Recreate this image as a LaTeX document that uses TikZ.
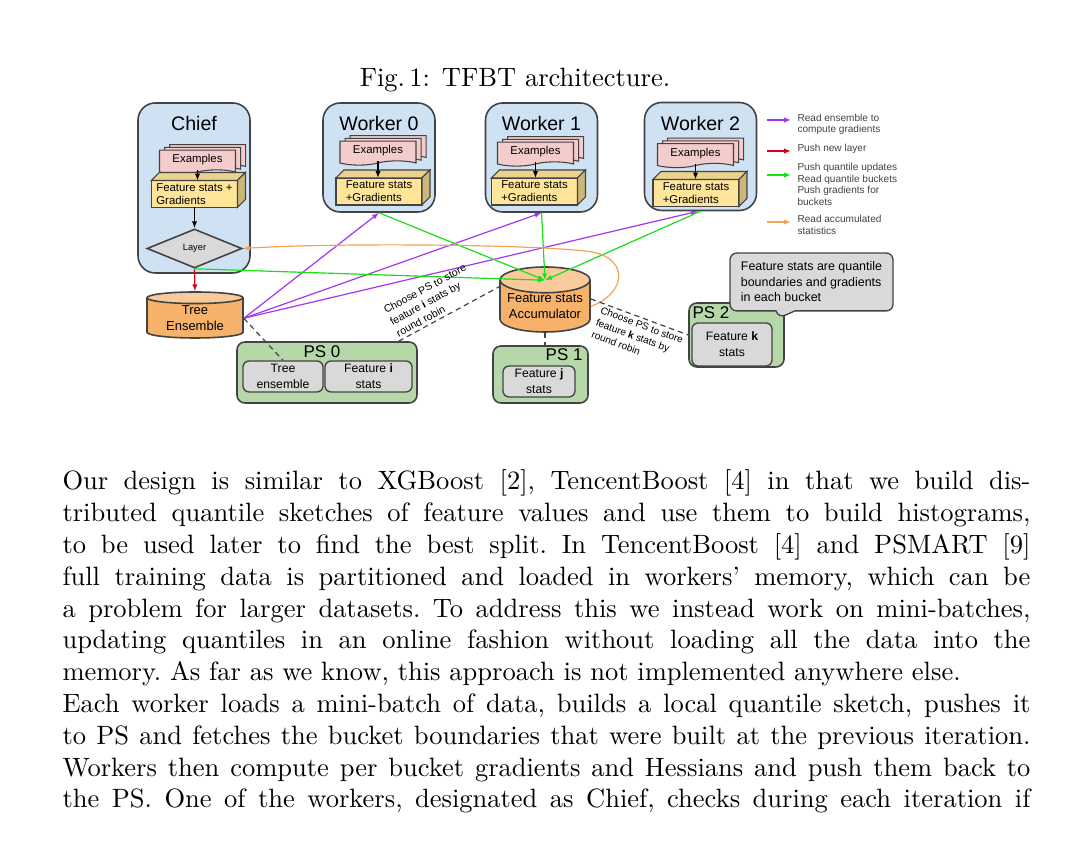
\documentclass[tikz,border=0pt]{standalone}
\usepackage{fontspec}
\setsansfont{Liberation Sans}
\usetikzlibrary{arrows.meta,shapes.geometric,shapes.symbols,shapes.callouts,shadows}

\definecolor{hostblue}{HTML}{CFE2F3}
\definecolor{edgegray}{HTML}{434343}
\definecolor{sheetpink}{HTML}{F4CCCC}
\definecolor{statyellow}{HTML}{FFE599}
\definecolor{layergray}{HTML}{D9D9D9}
\definecolor{drumorange}{HTML}{F6B26B}
\definecolor{drumtop}{HTML}{F9CB9C}
\definecolor{psgreen}{HTML}{B6D7A8}
\definecolor{readpurple}{HTML}{A335F5}
\definecolor{pushred}{HTML}{D80018}
\definecolor{quantgreen}{HTML}{18E018}
\definecolor{accorange}{HTML}{F2A553}

% one pixel of the page
\newcommand{\pxu}{0.3774pt}
\newcommand{\titlesf}{\sffamily\fontsize{7.4}{8.5}\selectfont}
\newcommand{\boxsf}{\sffamily\fontsize{4.3}{4.9}\selectfont}
\newcommand{\drumsf}{\sffamily\fontsize{4.9}{6}\selectfont}
\newcommand{\pssf}{\sffamily\fontsize{6.4}{7}\selectfont}
\newcommand{\slotsf}{\sffamily\fontsize{4.6}{6}\selectfont}
\newcommand{\notesf}{\sffamily\fontsize{4.7}{5.85}\selectfont}
\newcommand{\keysf}{\sffamily\fontsize{3.8}{4.4}\selectfont}
\newcommand{\layersf}{\sffamily\fontsize{3.5}{4}\selectfont}

\begin{document}
\begin{tikzpicture}[x=\pxu,y=-\pxu,>={Latex[length=2.6pt,width=2pt]}]
    \tikzstyle{host}=[draw=edgegray,fill=hostblue,line width=0.6pt,rounded corners=6.5pt,minimum width=112*\pxu];
    \tikzstyle{hosttitle}=[anchor=base,font=\titlesf,inner sep=0pt];
    \tikzstyle{sheets}=[tape,tape bend top=none,tape bend height=1.6pt,draw=edgegray,fill=sheetpink,line width=0.4pt,
        copy shadow={shadow xshift=3.8pt,shadow yshift=2.1pt},copy shadow={shadow xshift=1.9pt,shadow yshift=1.05pt},
        font=\boxsf,inner sep=1pt,minimum width=76*\pxu,minimum height=24*\pxu];
    \tikzstyle{cube}=[draw=edgegray,fill=statyellow,line width=0.4pt,outer sep=0pt,font=\boxsf,align=left,
        inner sep=1pt,minimum width=86*\pxu,minimum height=27*\pxu];
    \tikzstyle{cubeside}=[draw=edgegray,line width=0.4pt];
    \tikzstyle{drum}=[cylinder,shape border rotate=90,anchor=shape center,draw=edgegray,line width=0.6pt,inner sep=0pt,
        cylinder uses custom fill,cylinder body fill=drumorange,cylinder end fill=drumtop,font=\drumsf,align=center];
    \tikzstyle{psbox}=[draw=edgegray,fill=psgreen,line width=0.6pt,rounded corners=3pt];
    \tikzstyle{pstitle}=[font=\pssf,inner sep=0pt];
    \tikzstyle{slot}=[draw=edgegray,fill=layergray,line width=0.5pt,rounded corners=2.3pt,font=\slotsf,align=center,inner sep=1pt];
    \tikzstyle{keytext}=[anchor=west,font=\keysf,align=left,text=edgegray,inner sep=0pt];
    \tikzstyle{link}=[line width=0.45pt];
    \tikzstyle{robin}=[draw=edgegray,line width=0.45pt,dash pattern=on 2pt off 1.5pt];

    \path[use as bounding box,fill=white] (0,0) rectangle (1092,856);

    \node[anchor=base,font=\fontsize{10}{12}\selectfont] (caption) at (515,87) {Fig.\,1: TFBT architecture.};

    % hosts
    \node[host,minimum height=170*\pxu] (chief) at (194,188) {};
    \node[host,minimum height=109*\pxu] (work0) at (379,157.5) {};
    \node[host,minimum height=109*\pxu] (work1) at (541.5,157.5) {};
    \node[host,minimum height=108*\pxu] (work2) at (700.5,156.5) {};

    \node[hosttitle] (chieft) at (194,131) {Chief};
    \node[hosttitle] (work0t) at (379,131) {Worker 0};
    \node[hosttitle] (work1t) at (541.5,131) {Worker 1};
    \node[hosttitle] (work2t) at (700.5,131) {Worker 2};

    \node[sheets] (chiefex) at (197.5,160) {Examples};
    \node[sheets] (ex0) at (378,151) {Examples};
    \node[sheets] (ex1) at (535.5,152) {Examples};
    \node[sheets] (ex2) at (695.5,153.5) {Examples};

    \node[cube] (chiefst) at (194.5,194) {Feature stats +\\Gradients};
    \node[cube] (st0) at (379,191.5) {Feature stats\\+Gradients};
    \node[cube] (st1) at (534.5,191.5) {Feature stats\\+Gradients};
    \node[cube] (st2) at (696,193) {Feature stats\\+Gradients};

    \draw[cubeside,fill=statyellow!92!black] (chiefst.north west) -- ([shift={(8,-8)}]chiefst.north west) -- ([shift={(8,-8)}]chiefst.north east) -- (chiefst.north east) -- cycle;
    \draw[cubeside,fill=statyellow!80!black] (chiefst.north east) -- ([shift={(8,-8)}]chiefst.north east) -- ([shift={(8,-8)}]chiefst.south east) -- (chiefst.south east) -- cycle;
    \draw[cubeside,fill=statyellow!92!black] (st0.north west) -- ([shift={(8,-8)}]st0.north west) -- ([shift={(8,-8)}]st0.north east) -- (st0.north east) -- cycle;
    \draw[cubeside,fill=statyellow!80!black] (st0.north east) -- ([shift={(8,-8)}]st0.north east) -- ([shift={(8,-8)}]st0.south east) -- (st0.south east) -- cycle;
    \draw[cubeside,fill=statyellow!92!black] (st1.north west) -- ([shift={(8,-8)}]st1.north west) -- ([shift={(8,-8)}]st1.north east) -- (st1.north east) -- cycle;
    \draw[cubeside,fill=statyellow!80!black] (st1.north east) -- ([shift={(8,-8)}]st1.north east) -- ([shift={(8,-8)}]st1.south east) -- (st1.south east) -- cycle;
    \draw[cubeside,fill=statyellow!92!black] (st2.north west) -- ([shift={(8,-8)}]st2.north west) -- ([shift={(8,-8)}]st2.north east) -- (st2.north east) -- cycle;
    \draw[cubeside,fill=statyellow!80!black] (st2.north east) -- ([shift={(8,-8)}]st2.north east) -- ([shift={(8,-8)}]st2.south east) -- (st2.south east) -- cycle;

    \node[diamond,aspect=2.4,draw=edgegray,fill=layergray,line width=0.6pt,inner sep=0pt,
        minimum width=95*\pxu,minimum height=39*\pxu,font=\layersf] (layer) at (194.5,248.5) {Layer};

    % stores
    \node[drum,aspect=0.2,minimum width=96*\pxu,minimum height=46*\pxu] (tree) at (195,315) {Tree\\Ensemble};
    \node[drum,aspect=0.34,minimum width=90*\pxu,minimum height=65*\pxu] (acc) at (545,299.5) {Feature stats\\Accumulator};

    \node[psbox,minimum width=180*\pxu,minimum height=61*\pxu] (ps0) at (327,372.5) {};
    \node[psbox,minimum width=95*\pxu,minimum height=57*\pxu] (ps1) at (540.5,374.5) {};
    \node[psbox,minimum width=95*\pxu,minimum height=64*\pxu] (ps2) at (736.5,335) {};
    \node[pstitle] (ps0t) at (322,352) {PS 0};
    \node[pstitle,anchor=east] (ps1t) at (583,355) {PS 1};
    \node[pstitle,anchor=west] (ps2t) at (692,313) {PS 2};

    \node[slot,minimum width=80*\pxu,minimum height=31*\pxu] (tens) at (283,376.5) {Tree\\ensemble};
    \node[slot,minimum width=87*\pxu,minimum height=31*\pxu] (feati) at (368.5,376.5) {Feature \textbf{i}\\stats};
    \node[slot,minimum width=72*\pxu,minimum height=31*\pxu] (featj) at (539,381.5) {Feature \textbf{j}\\stats};
    \node[slot,minimum width=80*\pxu,minimum height=43*\pxu] (featk) at (732,344.5) {Feature \textbf{k}\\stats};

    \node[rectangle callout,callout absolute pointer={(779,318)},draw=edgegray,fill=layergray,line width=0.5pt,
        rounded corners=2.5pt,minimum width=163*\pxu,minimum height=56*\pxu,font=\notesf,align=left] (bucketnote) at (811.5,282)
        {Feature stats are quantile\\boundaries and gradients\\in each bucket};

    % inside the hosts
    \draw[link,->] (chiefex.south) -- (chiefex.south |- chiefst.north);
    \draw[link,->] (ex0.south) -- (ex0.south |- st0.north);
    \draw[link,->] (ex1.south) -- (ex1.south |- st1.north);
    \draw[link,->] (ex2.south) -- (ex2.south |- st2.north);
    \draw[link,->] (chiefst.south) -- (layer.north);

    % data flow
    \draw[link,->,pushred] (layer.south) -- (tree.north);
    \draw[link,->,readpurple] (tree.east) -- (work0.south);
    \draw[link,->,readpurple] (tree.east) -- (work1.south);
    \draw[link,->,readpurple] (tree.east) -- ([xshift=-1pt]work2.south);
    \draw[link,->,quantgreen] (layer.south) -- ([yshift=-5.3pt]acc.north);
    \draw[link,->,quantgreen] (work0.south) -- ([yshift=-5.3pt]acc.north);
    \draw[link,->,quantgreen] (work1.south) -- ([yshift=-5.3pt]acc.north);
    \draw[link,->,quantgreen] (work2.south) -- ([yshift=-5.3pt]acc.north);
    \draw[link,->,accorange] (acc.east) .. controls (628,293) and (630,255) .. (585,251) .. controls (520,244) and (330,243) .. (layer.east);

    % placement on the servers
    \draw[robin] (tree.east) -- (tens.north);
    \draw[robin] (acc.south) -- (acc.south |- ps1.north);
    \draw[robin] ([xshift=-7.2pt]ps0.north east) -- node[sloped,above,pos=0.42,font=\sffamily\fontsize{4}{5}\selectfont,align=left,inner sep=1pt] (choosei)
        {Choose PS to store\\feature \textbf{i} stats by\\round robin} ([yshift=7.4pt]acc.west);
    \draw[robin] ([yshift=2.8pt]acc.east) -- node[sloped,below,pos=0.55,font=\sffamily\fontsize{3.8}{4.8}\selectfont,align=left,inner sep=1pt] (choosek)
        {Choose PS to store\\feature \textbf{k} stats by\\round robin} (ps2.west);

    % legend
    \coordinate (keyreadA) at (767,120);
    \coordinate (keyreadB) at (791,120);
    \coordinate (keylayerA) at (767,151);
    \coordinate (keylayerB) at (791,151);
    \coordinate (keyquantA) at (767,175);
    \coordinate (keyquantB) at (791,175);
    \coordinate (keyaccA) at (767,222);
    \coordinate (keyaccB) at (791,222);
    \draw[link,->,readpurple] (keyreadA) -- (keyreadB);
    \draw[link,->,pushred] (keylayerA) -- (keylayerB);
    \draw[link,->,quantgreen] (keyquantA) -- (keyquantB);
    \draw[link,->,accorange] (keyaccA) -- (keyaccB);
    \node[keytext] (keyread) at (797,124.5) {Read ensemble to\\compute gradients};
    \node[keytext] (keylayer) at (797,149) {Push new layer};
    \node[keytext] (keyquant) at (797,184.5) {Push quantile updates\\Read quantile buckets\\Push gradients for\\buckets};
    \node[keytext] (keyacc) at (797,225) {Read accumulated\\statistics};

    % running text
    \node[anchor=base west,text width=365.3pt,align=justify,inner sep=0pt,font=\fontsize{10}{12}\selectfont\frenchspacing] (body) at (62,490)
        {Our design is similar to XGBoost [2], TencentBoost [4] in that we build dis-\linebreak
        tributed quantile sketches of feature values and use them to build histograms,\linebreak
        to be used later to find the best split. In TencentBoost [4] and PSMART [9]\linebreak
        full training data is partitioned and loaded in workers’ memory, which can be\linebreak
        a problem for larger datasets. To address this we instead work on mini-batches,\linebreak
        updating quantiles in an online fashion without loading all the data into the\linebreak
        memory. As far as we know, this approach is not implemented anywhere else.\\
        Each worker loads a mini-batch of data, builds a local quantile sketch, pushes it\linebreak
        to PS and fetches the bucket boundaries that were built at the previous iteration.\linebreak
        Workers then compute per bucket gradients and Hessians and push them back to\linebreak
        the PS. One of the workers, designated as Chief, checks during each iteration if\parfillskip=0pt\par};
\end{tikzpicture}
\end{document}
